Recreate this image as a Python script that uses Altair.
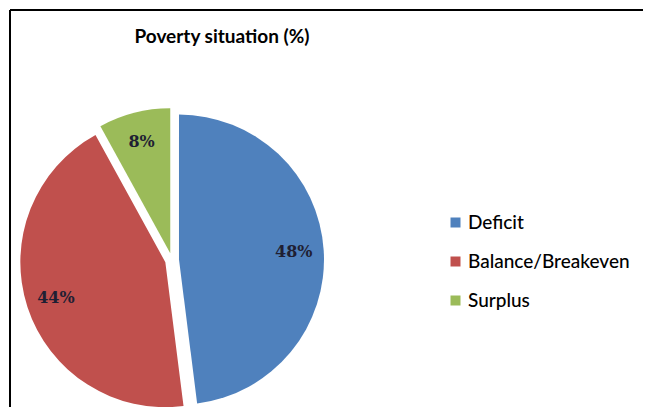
import altair as alt
import pandas as pd

# ---- data ----
chart_title = "Poverty situation (%)"
categories = ["Deficit", "Balance/Breakeven", "Surplus"]
values = [48, 44, 8]
labels = ["48%", "44%", "8%"]
colors = ["#4F81BD", "#C0504D", "#9BBB59"]

# ---- layout / style ----
W, H = 633, 397
CX, CY, R, EXPLODE, LABEL_R = 162, 250, 145, 7, 115

df = pd.DataFrame({
    "category": categories,
    "value": values,
    "label": labels,
    "order": list(range(len(categories))),
})

base = (
    alt.Chart(df)
    .transform_joinaggregate(total="sum(value)")
    .transform_window(cum="sum(value)", sort=[alt.SortField("order")], frame=[None, 0])
    .transform_calculate(t0="(datum.cum - datum.value) / datum.total * 2 * PI")
    .transform_calculate(t1="datum.cum / datum.total * 2 * PI")
    .transform_calculate(mid="(datum.t0 + datum.t1) / 2")
    .transform_calculate(px=f"{CX} + {EXPLODE} * sin(datum.mid)")
    .transform_calculate(py=f"{CY} - {EXPLODE} * cos(datum.mid)")
    .transform_calculate(lx=f"datum.px + {LABEL_R} * sin(datum.mid)")
    .transform_calculate(ly=f"datum.py - {LABEL_R} * cos(datum.mid)")
)

pie = base.mark_arc(radius=R).encode(
    theta=alt.Theta("t0:Q", scale=None, stack=None),
    theta2="t1:Q",
    x=alt.X("px:Q", scale=None, axis=None),
    y=alt.Y("py:Q", scale=None, axis=None),
    color=alt.Color(
        "category:N",
        scale=alt.Scale(domain=categories, range=colors),
        sort=categories,
        legend=alt.Legend(
            title=None,
            orient="none",
            legendX=436,
            legendY=203,
            symbolType="square",
            symbolSize=100,
            symbolStrokeWidth=0,
            labelFont="Lato",
            labelFontSize=19,
            labelFontWeight=500,
            labelColor="black",
            labelLimit=0,
            rowPadding=19,
            labelOffset=3,
            padding=0,
        ),
    ),
)

pct = base.mark_text(
    font="DejaVu Serif", fontSize=16, fontWeight="bold", color="#1f1f33",
    align="center", baseline="middle",
).encode(
    x=alt.X("lx:Q", scale=None, axis=None),
    y=alt.Y("ly:Q", scale=None, axis=None),
    text="label:N",
)

one = pd.DataFrame({"t": [chart_title]})
title = alt.Chart(one).mark_text(
    font="Lato", fontSize=19, fontWeight="bold", color="black",
    align="center", baseline="middle",
).encode(text="t:N", x=alt.value(212), y=alt.value(27))

frame_left = alt.Chart(one).mark_rule(color="black", strokeWidth=2).encode(
    x=alt.value(0), y=alt.value(0), y2=alt.value(H)
)
frame_top = alt.Chart(one).mark_rule(color="black", strokeWidth=2).encode(
    x=alt.value(0), x2=alt.value(W), y=alt.value(0)
)

chart = (
    alt.layer(frame_left, frame_top, pie, pct, title)
    .properties(
        width=W, height=H,
        padding={"left": 2, "top": 2, "right": 0, "bottom": 0},
        autosize=alt.AutoSizeParams(type="none"),
        background="white",
    )
    .configure_view(stroke=None)
)

chart.save("out.html", embed_options={"renderer": "svg", "actions": False})
